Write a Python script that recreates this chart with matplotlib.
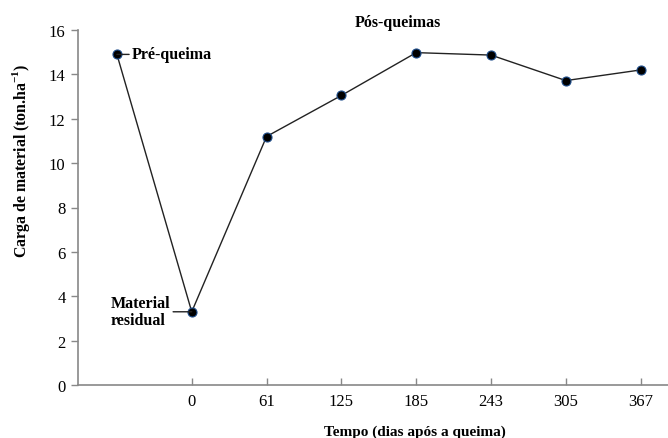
import matplotlib
matplotlib.use("Agg")
import matplotlib.pyplot as plt

categories = ["", "0", "61", "125", "185", "243", "305", "367"]
values = [14.9, 3.3, 11.2, 13.05, 14.98, 14.87, 13.72, 14.2]
yticks = [0, 2, 4, 6, 8, 10, 12, 14, 16]

plt.rcParams['font.family'] = ['Liberation Serif', 'DejaVu Serif']
plt.rcParams['mathtext.fontset'] = 'custom'
plt.rcParams['mathtext.rm'] = 'Liberation Serif'
plt.rcParams['mathtext.bf'] = 'Liberation Serif:bold'

W, H = 668, 439
fig = plt.figure(figsize=(W/100, H/100), dpi=100)
ax = fig.add_axes([78/W, 1-386/H, 590/W, 355/H])

xs = list(range(len(categories)))
ax.plot(xs, values, color='#222222', lw=1.0, marker='o', ms=6.5,
        mfc='black', mec='#1f4e8c', mew=0.8, zorder=3)

ax.set_xlim(-0.52, 7.365)
ax.set_ylim(0, 16)
ax.set_yticks(yticks)
ax.set_xticks(xs[1:])
ax.set_xticklabels(categories[1:])
ax.tick_params(axis='y', direction='out', length=5, width=1, color='#888888', labelsize=12, pad=4)
ax.tick_params(axis='x', direction='in', length=5, width=1, color='#888888', labelsize=12, pad=6)

for s in ['top', 'right']:
    ax.spines[s].set_visible(False)
for s in ['left', 'bottom']:
    ax.spines[s].set_color('#888888')
    ax.spines[s].set_linewidth(1.2)

fig.text(415/W, 1-432/H, 'Tempo (dias após a queima)', fontsize=11, fontweight='bold',
         ha='center', va='center')
fig.text(21/W, 1-161/H, r'Carga de material (ton.ha$^{\mathbf{-1}}$)', fontsize=11.4,
         fontweight='bold', ha='center', va='center', rotation=90)

# annotations
ax.annotate('Pré-queima', xy=(xs[0], values[0]), xytext=(xs[0] + 0.2, values[0]),
            fontsize=11.5, fontweight='bold', va='center', ha='left',
            arrowprops=dict(arrowstyle='-', color='#222222', lw=1.0, shrinkA=0, shrinkB=0))
ax.annotate('Material\nresidual', xy=(xs[1], values[1]), xytext=(xs[1] - 1.083, values[1]),
            fontsize=11.5, fontweight='bold', va='center', ha='left', linespacing=1.05,
            arrowprops=dict(arrowstyle='-', color='#222222', lw=1.0, shrinkA=0, shrinkB=0))
ax.text(3.75, 16.35, 'Pós-queimas', fontsize=11.5, fontweight='bold', ha='center', va='center')

fig.savefig('out.png', dpi=100)
